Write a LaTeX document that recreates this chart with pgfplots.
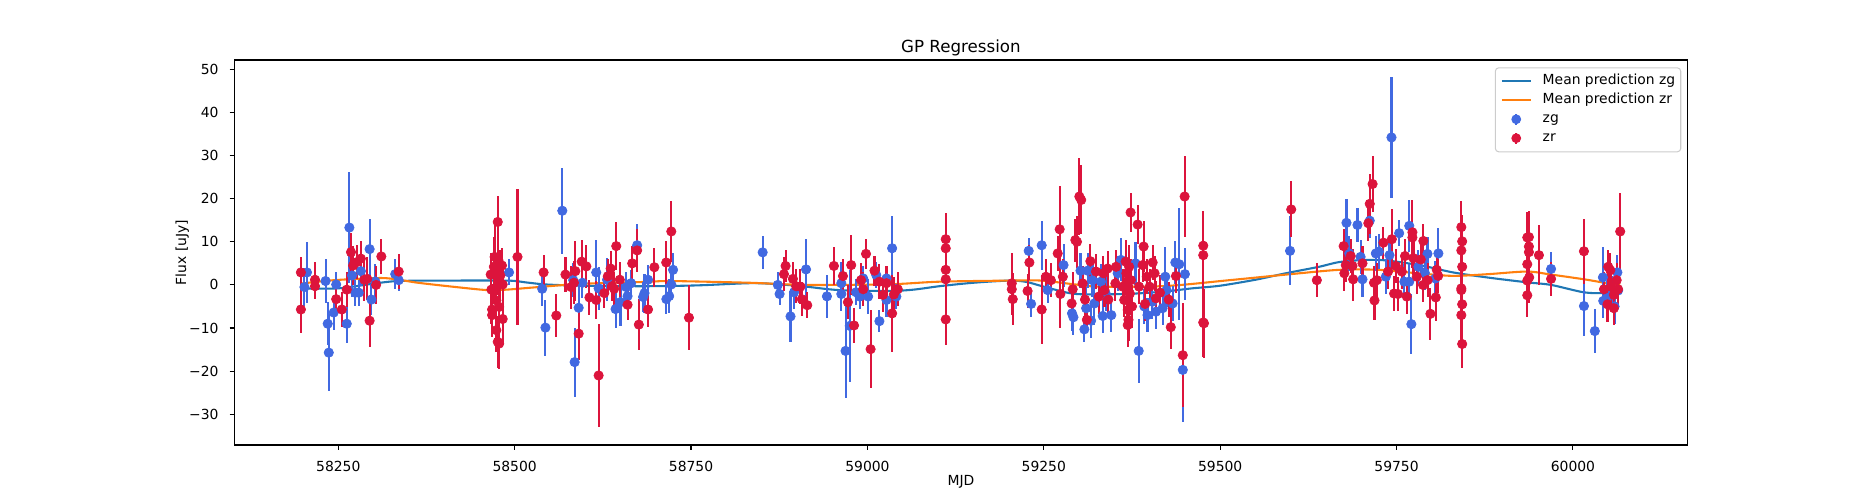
\documentclass[border=0pt]{standalone}
\usepackage{fontspec}
\setmainfont{DejaVu Sans}
\usepackage{pgfplots}
\usepackage{pgfplotstable}
\pgfplotsset{compat=1.18}
\definecolor{zgc}{HTML}{4169E1}
\definecolor{zrc}{HTML}{DC143C}
\definecolor{tabblue}{HTML}{1F77B4}
\definecolor{taborange}{HTML}{FF7F0E}
\definecolor{legframe}{HTML}{CCCCCC}

\pgfplotstableread{
x y e
58202 -0.5 4.5
58205.6 2.9 7
58232 0.9 5
58235 -9.0 5
58236.5 -15.7 9
58243.5 -6.4 4
58247 0.1 3
58262 -9.0 4.5
58265.7 13.3 12.8
58269.5 2.2 5
58274 -1.8 3
58279 -1.8 3
58282 3.2 3.5
58294.4 8.3 7
58297 -3.4 3.5
58302.5 0.8 4
58330.7 2.5 3.5
58335.6 1.1 2.5
58492 2.9 3
58539 -0.9 4
58543.6 -9.9 6.5
58567.5 17.2 10
58583 1.1 4
58585 -17.9 8
58590.7 -5.3 5
58596 0.5 3.5
58615.6 2.9 7.5
58619 -0.8 5
58631 1.2 5
58643 -5.6 4.5
58650 -4.0 5.5
58658 -0.5 3.5
58660 -2.6 3.5
58665 0.4 3
58673.6 9.2 5
58682 -2.8 3.5
58684 -1.9 4.5
58689 1.2 3.5
58715 -3.3 3.5
58719 -2.6 4
58722 0.1 3.5
58724.5 3.5 4
58851.5 7.55 3.8
58873 0.0 3
58875.5 -2.1 2.5
58891 -7.3 6
58896 -1.7 4
58913 3.6 7
58942.6 -2.65 5
58963 0.4 5
58963 -2.1 4
58969 -15.3 11
58975 -9.5 13
58984 -1.7 3
58989 -2.7 3
58994 1.5 3
59001 -2.7 4
59012.5 2.3 3
59017 -8.4 2.5
59027 1.5 3
59027 -3.5 4
59035 8.5 7.5
59041 -2.7 3
59228.6 7.9 3
59232 -4.4 3
59247 9.2 5.7
59255.5 -1.2 3
59278 4.6 5
59290 -6.6 4
59292 -7.5 4
59302 3.3 4
59307.5 -10.3 3
59310 -5.4 5
59312 3.3 4
59317 -8.3 4
59319 1.1 4
59321.7 -4.3 5
59331 0.75 4
59333.5 -7.2 4
59338 -2.1 4
59345.7 -7.0 4
59354.7 2.7 4
59359.4 5.8 5
59384.5 -15.3 7.5
59380 5.0 5
59392.5 -5.0 4
59397 -7.0 4
59404 -3.9 4
59409 -6.2 4
59418.4 -5.4 4
59422.2 1.9 7
59424 -1.2 4
59432.6 -4.3 4
59436.4 5.2 5
59442 4.8 13
59447 -19.7 12
59450 2.5 6
59599 7.9 8
59679 14.4 5.5
59683 7.3 4
59694.6 13.9 4
59699 6.5 4
59701.7 1.3 4
59712 14.9 4
59720.6 7.3 4
59725 7.7 4
59734.8 1.9 4
59740 6.9 4
59742.8 34.2 14
59753.7 12.0 3
59761 0.75 4
59768 0.75 4
59768 13.7 6
59771 -9.1 7
59781 4.2 4
59790 2.8 4
59793.8 7.2 4
59805 1.5 4
59809.3 7.3 6
59969 3.7 3.9
60015.6 -4.9 7
60031 -10.7 5
60042.5 1.75 7
60043 -3.7 4
60048 -3.1 4
60055 -2.0 4
60059 -5.0 4
60063 2.9 4
60064 -1.3 4
}\zgdata

\pgfplotstableread{
x y e
58197 2.9 3.5
58197 -5.7 5.5
58217 1.2 4
58217 -0.3 3
58247 -3.3 3.3
58255 -5.7 4
58262 -1.1 4
58268 7.6 4.5
58271 4.5 4.5
58276.5 5.3 4
58282 6.1 4
58287 1.2 5
58291 1.4 5
58294.4 -8.3 6
58303.6 0.0 4.5
58311 6.6 4
58335.6 3.1 4
58466 2.4 5
58467 -1.1 8
58468 -5.7 6
58468 -7.0 5
58470.5 4.2 7
58471.6 6.5 8
58473 -0.9 8
58474 -3.6 7
58474 -10.5 5
58476 14.6 6
58476 -13.2 6
58477 5.7 8
58478 -5.1 6
58478 -13.6 6
58479.7 2.2 6
58482 4.5 4
58483 0.1 4
58483 -7.9 6
58504 6.5 15.8
58541 2.9 4
58559 -7.1 5
58572 2.4 4
58580 -0.5 5
58584 0.5 5
58586 3.2 7
58590.7 -11.3 6
58595 5.4 5
58601.6 4.3 5
58606 -2.9 4
58615.6 -3.5 4.5
58619 -21.0 12
58627 -1.9 3.5
58632 2.0 4
58636 3.8 4
58638 -0.3 3.5
58641 -0.9 4
58644 9.0 5.5
58649 1.2 4
58660 -4.6 3.5
58666.6 5.0 4
58673.6 8.0 5
58676 -9.2 6
58689 -5.7 4
58698 4.1 4.5
58714.8 5.2 5
58722 12.4 7
58747 -7.6 7.5
58884 4.4 3.8
58881.7 2.5 4
58894.4 1.4 4
58899 -0.3 4
58905 -0.4 4
58907 -3.3 4
58914.7 -4.7 3
58952.5 4.4 4.5
58965.3 2.06 4
58972.3 -4.0 4
58977 4.6 7
58981 -9.4 4
58991 1.1 4
58994 -1.0 4
58998 7.2 3.5
59004.5 -14.9 9
59010 3.3 3.5
59017 0.75 4
59022 -2.3 4
59027 0.4 4
59035 -6.6 9
59037.5 -2.2 4
59043 -1.0 4
59111 10.6 6
59111 8.5 6
59111 3.5 6
59111 1.3 6
59111 -8.0 6
59204.6 0.36 7
59204.6 -1.0 6
59206 -3.3 6
59229.6 5.2 4
59227 -1.4 4
59247 -5.7 8
59253 1.9 4
59260 1.1 4
59269.7 7.3 4
59272.5 12.9 10
59273.5 -2.1 8
59277 1.9 4
59289.5 -4.3 4
59291 -1.0 4
59294.7 10.4 5
59297 10.0 6
59300.4 20.5 9
59303 19.7 8
59305 0.35 4
59308.4 -3.4 4
59311 -8.1 3
59316 5.5 4
59324 3.1 4
59328 -2.7 4
59334.4 2.7 4
59336 -1.2 4
59340.5 3.8 4
59341.5 -3.4 4
59351.4 0.35 4
59352.4 4.2 4
59361.8 -0.4 4
59364 -3.5 4
59366 5.4 5
59367 2.7 5
59367.5 0.75 5
59368 -1.2 5
59368 -3.5 5
59369 -5.8 5
59370 -8.1 5
59369 -9.3 5
59371 4.2 5
59372 -2.0 5
59373.5 1.1 5
59375 -5.0 5
59373 16.8 4.5
59383 14.0 4.5
59385 -0.4 4
59390 4.6 4
59391.5 8.9 6
59393.5 -4.4 4
59396 1.9 4
59400 -0.4 4
59404.3 5.2 4
59407 2.7 4
59409 -3.1 4
59414.7 -1.8 4
59427 -3.4 4
59430 -9.8 5
59437.3 2.06 4
59447 -16.3 12
59449.6 20.5 9.5
59476 9.1 8
59476 6.9 8
59476 -8.7 8
59477 -8.9 8
59600.7 17.5 6.5
59637 1.1 4
59675 9.0 4
59676 2.7 4
59678 4.6 4
59685 6.7 4
59687.5 4.4 4
59688.5 1.3 5
59701.7 5.0 4
59710 14.3 4
59712 18.8 7
59716 23.4 6.5
59718 0.5 4
59718.7 -3.6 4.5
59722 1.1 4
59731.4 9.8 3.7
59738 3.1 4
59743.3 10.6 7
59746.5 -2.0 4
59749 4.4 4
59752 -2.1 4
59757.5 3.1 4
59762 6.7 4
59764.5 -2.7 4
59772.5 12.2 7.5
59772.5 11.0 7
59774 6.2 4
59778.7 1.9 4
59784.3 5.9 4
59787.6 -0.02 4
59788 10.2 4
59794 1.1 4
59798 -6.7 6
59805.6 -2.9 5.5
59807 3.5 4
59809 2.1 4
59841.8 13.4 6
59843 10.1 6
59841.8 8.0 6
59843 4.2 6
59841.8 -0.8 6
59841.8 -1.2 6
59843 -4.5 6
59841.8 -7.0 6
59843 -13.7 5.5
59935.3 11.0 6
59937.6 11.1 6
59937.6 8.9 6
59937.6 7.6 6
59935.3 4.8 6
59938 1.75 6
59935.3 1.0 6
59935.3 -2.4 5
59951.8 6.9 7
59969 1.4 4
60015.6 7.8 7.5
60044 -1.0 4
60050 4.2 4
60049 -4.5 4
60053 3.4 4
60054 -0.4 4
60058 -2.3 4
60058 -5.4 4
60062 1.1 4
60064 -1.0 4
60067 12.4 9
}\zrdata

\pgfplotstableread{
x y
58197 -0.8
58250 -0.8
58300 0.3
58335 0.9
58400 1.0
58490 1.0
58515 0.6
58545 0.1
58600 -0.2
58690 -0.3
58760 -0.1
58833 0.4
58870 0.2
58913 -0.4
58960 -1.2
59031 -1.4
59065 -1.1
59102 -0.3
59150 0.5
59201 1.0
59225 0.7
59250 -0.4
59290 -2.0
59330 -2.2
59380 -2.0
59423 -1.5
59460 -0.8
59499 -0.2
59550 1.2
59593 2.7
59640 4.2
59673 5.4
59725 5.8
59782 4.6
59830 2.9
59880 1.7
59935 0.6
59969 0.0
60015 -1.7
60045 -1.9
60067 -1.5
}\zgmean

\pgfplotstableread{
x y
58197 0.3
58244 1.1
58309 1.6
58336 1.2
58363 0.5
58417 -0.5
58461 -1.2
58488 -1.1
58526 -0.6
58580 0.1
58634 0.5
58688 0.7
58721 0.9
58833 0.5
58913 0.0
59031 0.15
59102 0.75
59201 1.0
59247 1.0
59290 0.2
59329 -0.4
59423 -0.25
59513 1.1
59600 2.5
59669 3.5
59725 3.5
59780 2.7
59830 2.1
59880 2.5
59935 3.1
59969 2.4
60016 1.3
60045 0.5
60067 0.1
}\zrmean

\begin{document}
\begin{tikzpicture}
\path[use as bounding box] (0,0) rectangle (1080pt,288pt);
\begin{axis}[
  at={(135pt,31.68pt)}, anchor=south west,
  scale only axis, width=837pt, height=221.76pt,
  xmin=58102.7, xmax=60162.4, ymin=-37.12, ymax=52.16,
  scaled x ticks=false, scaled y ticks=false,
  xtick={58250,58500,58750,59000,59250,59500,59750,60000},
  xticklabels={58250,58500,58750,59000,59250,59500,59750,60000},
  ytick={-30,-20,-10,0,10,20,30,40,50},
  yticklabels={−30,−20,−10,0,10,20,30,40,50},
  tick pos=left, tick align=outside, major tick length=2.8pt,
  every tick/.style={black, line width=0.64pt},
  axis line style={line width=0.64pt},
  ticklabel style={font=\fontsize{8}{9.6}\selectfont},
  xticklabel style={anchor=north, yshift=-2.8pt},
  yticklabel style={anchor=east, xshift=-2.8pt},
  xlabel={MJD}, ylabel={Flux [uJy]},
  label style={font=\fontsize{8}{9.6}\selectfont},
  xlabel style={at={(axis description cs:0.5,-0.095)}, anchor=center},
  ylabel style={at={(axis description cs:-0.0358,0.5)}, anchor=center},
  title={GP Regression},
  every axis title/.style={font=\fontsize{9.6}{11.5}\selectfont, at={(axis description cs:0.5,1.0316)}, anchor=center},
  legend style={at={(axis description cs:1,1)}, anchor=north east, xshift=-3.6pt, yshift=-4.2pt,
    draw=legframe, line width=0.6pt, rounded corners=2pt, font=\fontsize{8}{9.6}\selectfont,
    inner xsep=3.2pt, inner ysep=3.9pt, row sep=3.0pt, column sep=6.4pt,
    nodes={inner sep=0pt, text height=6pt, text depth=1.9pt}},
  legend cell align=left,
  legend image code/.code={\draw[#1] (0pt,0pt) -- (16.5pt,0pt);},
]
\addplot[tabblue, line width=1.2pt, smooth] table[x=x,y=y] {\zgmean};
\addlegendentry{Mean prediction zg}
\addplot[taborange, line width=1.2pt, smooth] table[x=x,y=y] {\zrmean};
\addlegendentry{Mean prediction zr}
\addplot[forget plot, only marks, mark=*, mark size=2.7pt, color=zgc, mark options={draw=none, fill=zgc},
  error bars/.cd, y dir=both, y explicit, error mark=none,
  error bar style={line width=1.2pt, zgc}]
  table[x=x, y=y, y error=e] {\zgdata};
\addplot[forget plot, only marks, mark=*, mark size=2.7pt, color=zrc, mark options={draw=none, fill=zrc},
  error bars/.cd, y dir=both, y explicit, error mark=none,
  error bar style={line width=1.2pt, zrc}]
  table[x=x, y=y, y error=e] {\zrdata};
\addlegendimage{legend image code/.code={\draw[zgc, line width=1.2pt] (8.25pt,-3.1pt) -- (8.25pt,3.1pt); \fill[zgc] (8.25pt,0pt) circle (2.5pt);}}
\addlegendentry{zg}
\addlegendimage{legend image code/.code={\draw[zrc, line width=1.2pt] (8.25pt,-3.1pt) -- (8.25pt,3.1pt); \fill[zrc] (8.25pt,0pt) circle (2.5pt);}}
\addlegendentry{zr}
\end{axis}
\end{tikzpicture}
\end{document}
